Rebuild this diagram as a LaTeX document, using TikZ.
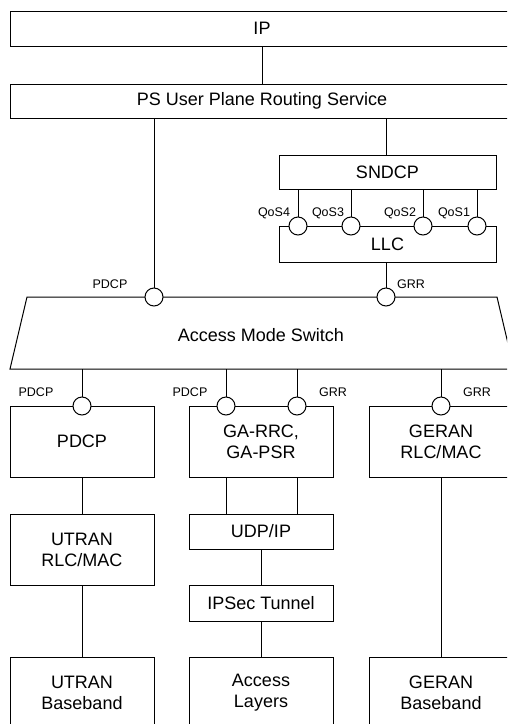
\documentclass[tikz,border=0pt]{standalone}
\usepackage{fontspec}
\setmainfont{Liberation Sans}
\begin{document}
\begin{tikzpicture}[x=1pt,y=-1pt, line width=1pt,
 box/.style={draw, fill=white, inner sep=0pt, font=\fontsize{18}{21}\selectfont, align=center},
 port/.style={draw, fill=white, circle, inner sep=0pt, minimum size=18pt},
 lab/.style={font=\fontsize{12.5}{14}\selectfont, inner sep=0pt}]
\useasboundingbox (0,0) rectangle (507,724);
\clip (0,0) rectangle (507,724);
\fill[white] (0,0) rectangle (507,724);
% boxes
\node[box, minimum width=504, minimum height=35] (ip) at (262,28.5) {IP};
\node[box, minimum width=504, minimum height=34] (ps) at (262,101) {PS User Plane Routing Service};
\node[box, minimum width=217, minimum height=34] (sndcp) at (387.5,172) {SNDCP};
\node[box, minimum width=217, minimum height=36] (llc) at (387.5,244) {LLC};
% access mode switch
\coordinate (swtl) at (27,297);
\coordinate (swtr) at (497,297);
\coordinate (swbr) at (514,369);
\coordinate (swbl) at (10,369);
\draw[fill=white] (swtl) -- (swtr) -- (swbr) -- (swbl) -- cycle;
\node[font=\fontsize{18}{21}\selectfont, inner sep=0pt] (sw) at (261,335) {Access Mode Switch};
\node[box, minimum width=144, minimum height=71] (pdcp) at (82,441.5) {PDCP};
\node[box, minimum width=144, minimum height=71] (garrc) at (261,441.5) {GA-RRC,\\GA-PSR};
\node[box, minimum width=144, minimum height=71] (geranrlc) at (441,441.5) {GERAN\\RLC/MAC};
\node[box, minimum width=144, minimum height=71] (utranrlc) at (82,549.5) {UTRAN\\RLC/MAC};
\node[box, minimum width=144, minimum height=35] (udp) at (261,531.5) {UDP/IP};
\node[box, minimum width=144, minimum height=36] (ipsec) at (261,603) {IPSec Tunnel};
\node[box, minimum width=144, minimum height=71] (utranbb) at (82,692.5) {UTRAN\\Baseband};
\node[box, minimum width=144, minimum height=71] (access) at (261,692.5) {\raisebox{-1pt}{Access}\\\raisebox{-1pt}{Layers}};
\node[box, minimum width=144, minimum height=71] (geranbb) at (441,692.5) {GERAN\\Baseband};
% port coordinates
\coordinate (cA) at (154,297);
\coordinate (cB) at (386,297);
\coordinate (c4) at (298,226);
\coordinate (c3) at (351,226);
\coordinate (c2) at (423,226);
\coordinate (c1) at (477,226);
\coordinate (d1) at (82,406);
\coordinate (d2) at (226,406);
\coordinate (d3) at (297,406);
\coordinate (d4) at (441,406);
% connectors
\draw (ip.south) -- (ps.north);
\draw (ps.south -| cA) -- (cA);
\draw (ps.south -| cB) -- (sndcp.north -| cB);
\draw (sndcp.south -| c4) -- (c4);
\draw (sndcp.south -| c3) -- (c3);
\draw (sndcp.south -| c2) -- (c2);
\draw (sndcp.south -| c1) -- (c1);
\draw (llc.south -| cB) -- (cB);
\draw (swbl -| d1) -- (d1);
\draw (swbl -| d2) -- (d2);
\draw (swbl -| d3) -- (d3);
\draw (swbl -| d4) -- (d4);
\draw (pdcp.south) -- (utranrlc.north);
\draw (utranrlc.south) -- (utranbb.north);
\draw (garrc.south -| d2) -- (udp.north -| d2);
\draw (garrc.south -| d3) -- (udp.north -| d3);
\draw (udp.south) -- (ipsec.north);
\draw (ipsec.south) -- (access.north);
\draw (geranrlc.south) -- (geranbb.north);
% ports
\node[port] (pA) at (cA) {};
\node[port] (pB) at (cB) {};
\node[port] (q4) at (c4) {};
\node[port] (q3) at (c3) {};
\node[port] (q2) at (c2) {};
\node[port] (q1) at (c1) {};
\node[port] (b1) at (d1) {};
\node[port] (b2) at (d2) {};
\node[port] (b3) at (d3) {};
\node[port] (b4) at (d4) {};
% labels
\node[lab] (lA) at (110,284) {PDCP};
\node[lab] (lB) at (411,284) {GRR};
\node[lab] (l4) at (274,213) {QoS4};
\node[lab] (l3) at (328,213) {QoS3};
\node[lab] (l2) at (400,213) {QoS2};
\node[lab] (l1) at (454,213) {QoS1};
\node[lab] (m1) at (36,392) {PDCP};
\node[lab] (m2) at (190,392) {PDCP};
\node[lab] (m3) at (333,392) {GRR};
\node[lab] (m4) at (477,392) {GRR};
\end{tikzpicture}
\end{document}
